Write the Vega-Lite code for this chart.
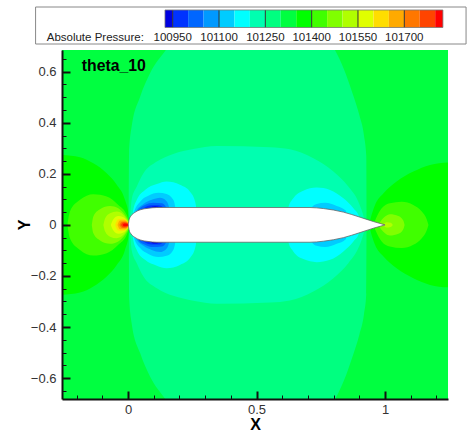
{
"$schema":"https://vega.github.io/schema/vega-lite/v6.json",
"width":386,"height":349,"autosize":{"type":"none"},"padding":{"left":62,"top":50,"right":22,"bottom":35},"background":"white",
"config":{"view":{"stroke":null},"font":"Liberation Sans"},
"datasets":{
"levels":[
{"p":100925,"p2":100950,"l":"100925"},{"p":100950,"p2":101000,"l":"100950"},{"p":101000,"p2":101050,"l":"101000"},{"p":101050,"p2":101100,"l":"101050"},{"p":101100,"p2":101150,"l":"101100"},{"p":101150,"p2":101200,"l":"101150"},{"p":101200,"p2":101250,"l":"101200"},{"p":101250,"p2":101300,"l":"101250"},{"p":101300,"p2":101350,"l":"101300"},{"p":101350,"p2":101400,"l":"101350"},{"p":101400,"p2":101450,"l":"101400"},{"p":101450,"p2":101500,"l":"101450"},{"p":101500,"p2":101550,"l":"101500"},{"p":101550,"p2":101600,"l":"101550"},{"p":101600,"p2":101650,"l":"101600"},{"p":101650,"p2":101700,"l":"101650"},{"p":101700,"p2":101750,"l":"101700"},{"p":101750,"p2":101800,"l":"101750"},{"p":101800,"p2":101825,"l":"101800"}],
"regions":[
{"r":"outer","l":"101300","x":-0.26,"y":0.7,"y2":-0.7},{"r":"outer","l":"101300","x":1.25,"y":0.7,"y2":-0.7},
{"r":"left0","l":"101350","x":-0.26,"y":0.274,"y2":-0.274},{"r":"left0","l":"101350","x":-0.187,"y":0.265,"y2":-0.265},{"r":"left0","l":"101350","x":-0.135,"y":0.241,"y2":-0.241},{"r":"left0","l":"101350","x":-0.083,"y":0.202,"y2":-0.202},{"r":"left0","l":"101350","x":-0.044,"y":0.157,"y2":-0.157},{"r":"left0","l":"101350","x":-0.012,"y":0.098,"y2":-0.098},{"r":"left0","l":"101350","x":0.004,"y":0.03,"y2":-0.03},{"r":"left0","l":"101350","x":0.006,"y":0,"y2":0},
{"r":"right0","l":"101350","x":0.94,"y":0.01,"y2":-0.01},{"r":"right0","l":"101350","x":0.944,"y":0.026,"y2":-0.026},{"r":"right0","l":"101350","x":0.961,"y":0.078,"y2":-0.078},{"r":"right0","l":"101350","x":0.994,"y":0.124,"y2":-0.124},{"r":"right0","l":"101350","x":1.045,"y":0.17,"y2":-0.17},{"r":"right0","l":"101350","x":1.11,"y":0.209,"y2":-0.209},{"r":"right0","l":"101350","x":1.175,"y":0.235,"y2":-0.235},{"r":"right0","l":"101350","x":1.25,"y":0.245,"y2":-0.245},
{"r":"col","l":"101250","x":0.003,"y":0,"y2":0},{"r":"col","l":"101250","x":0.004,"y":0.28,"y2":-0.28},{"r":"col","l":"101250","x":0.014,"y":0.385,"y2":-0.385},{"r":"col","l":"101250","x":0.047,"y":0.502,"y2":-0.502},{"r":"col","l":"101250","x":0.086,"y":0.595,"y2":-0.595},{"r":"col","l":"101250","x":0.147,"y":0.685,"y2":-0.685},{"r":"col","l":"101250","x":0.2,"y":0.76,"y2":-0.76},{"r":"col","l":"101250","x":0.75,"y":0.76,"y2":-0.76},{"r":"col","l":"101250","x":0.805,"y":0.685,"y2":-0.685},{"r":"col","l":"101250","x":0.84,"y":0.61,"y2":-0.61},{"r":"col","l":"101250","x":0.872,"y":0.52,"y2":-0.52},{"r":"col","l":"101250","x":0.9,"y":0.43,"y2":-0.43},{"r":"col","l":"101250","x":0.918,"y":0.35,"y2":-0.35},{"r":"col","l":"101250","x":0.927,"y":0.27,"y2":-0.27},{"r":"col","l":"101250","x":0.928,"y":0,"y2":0},
{"r":"inner","l":"101200","x":0.008,"y":0.02,"y2":-0.02},{"r":"inner","l":"101200","x":0.014,"y":0.098,"y2":-0.098},{"r":"inner","l":"101200","x":0.034,"y":0.15,"y2":-0.15},{"r":"inner","l":"101200","x":0.06,"y":0.202,"y2":-0.202},{"r":"inner","l":"101200","x":0.112,"y":0.248,"y2":-0.248},{"r":"inner","l":"101200","x":0.176,"y":0.278,"y2":-0.278},{"r":"inner","l":"101200","x":0.254,"y":0.297,"y2":-0.297},{"r":"inner","l":"101200","x":0.345,"y":0.309,"y2":-0.309},{"r":"inner","l":"101200","x":0.553,"y":0.304,"y2":-0.304},{"r":"inner","l":"101200","x":0.63,"y":0.296,"y2":-0.296},{"r":"inner","l":"101200","x":0.721,"y":0.261,"y2":-0.261},{"r":"inner","l":"101200","x":0.799,"y":0.209,"y2":-0.209},{"r":"inner","l":"101200","x":0.857,"y":0.15,"y2":-0.15},{"r":"inner","l":"101200","x":0.896,"y":0.091,"y2":-0.091},{"r":"inner","l":"101200","x":0.913,"y":0.046,"y2":-0.046},{"r":"inner","l":"101200","x":0.925,"y":0,"y2":0},
{"r":"fc1","l":"101150","x":0.016,"y":0,"y2":0},{"r":"fc1","l":"101150","x":0.018,"y":0.046,"y2":-0.046},{"r":"fc1","l":"101150","x":0.034,"y":0.098,"y2":-0.098},{"r":"fc1","l":"101150","x":0.066,"y":0.137,"y2":-0.137},{"r":"fc1","l":"101150","x":0.112,"y":0.16,"y2":-0.16},{"r":"fc1","l":"101150","x":0.15,"y":0.17,"y2":-0.17},{"r":"fc1","l":"101150","x":0.202,"y":0.157,"y2":-0.157},{"r":"fc1","l":"101150","x":0.241,"y":0.13,"y2":-0.13},{"r":"fc1","l":"101150","x":0.261,"y":0.091,"y2":-0.091},{"r":"fc1","l":"101150","x":0.266,"y":0.059,"y2":-0.059},{"r":"fc1","l":"101150","x":0.267,"y":0,"y2":0},
{"r":"fc2","l":"101100","x":0.021,"y":0,"y2":0},{"r":"fc2","l":"101100","x":0.023,"y":0.048,"y2":-0.048},{"r":"fc2","l":"101100","x":0.047,"y":0.091,"y2":-0.091},{"r":"fc2","l":"101100","x":0.079,"y":0.114,"y2":-0.114},{"r":"fc2","l":"101100","x":0.118,"y":0.126,"y2":-0.126},{"r":"fc2","l":"101100","x":0.15,"y":0.121,"y2":-0.121},{"r":"fc2","l":"101100","x":0.176,"y":0.098,"y2":-0.098},{"r":"fc2","l":"101100","x":0.184,"y":0.065,"y2":-0.065},{"r":"fc2","l":"101100","x":0.185,"y":0,"y2":0},
{"r":"fc3","l":"101050","x":0.03,"y":0,"y2":0},{"r":"fc3","l":"101050","x":0.031,"y":0.052,"y2":-0.052},{"r":"fc3","l":"101050","x":0.06,"y":0.082,"y2":-0.082},{"r":"fc3","l":"101050","x":0.092,"y":0.098,"y2":-0.098},{"r":"fc3","l":"101050","x":0.125,"y":0.106,"y2":-0.106},{"r":"fc3","l":"101050","x":0.148,"y":0.095,"y2":-0.095},{"r":"fc3","l":"101050","x":0.16,"y":0.068,"y2":-0.068},{"r":"fc3","l":"101050","x":0.161,"y":0,"y2":0},
{"r":"fc4","l":"101000","x":0.039,"y":0,"y2":0},{"r":"fc4","l":"101000","x":0.04,"y":0.059,"y2":-0.059},{"r":"fc4","l":"101000","x":0.066,"y":0.078,"y2":-0.078},{"r":"fc4","l":"101000","x":0.098,"y":0.087,"y2":-0.087},{"r":"fc4","l":"101000","x":0.131,"y":0.085,"y2":-0.085},{"r":"fc4","l":"101000","x":0.148,"y":0.069,"y2":-0.069},{"r":"fc4","l":"101000","x":0.15,"y":0,"y2":0},
{"r":"fc5","l":"100950","x":0.058,"y":0,"y2":0},{"r":"fc5","l":"100950","x":0.06,"y":0.065,"y2":-0.065},{"r":"fc5","l":"100950","x":0.092,"y":0.077,"y2":-0.077},{"r":"fc5","l":"100950","x":0.118,"y":0.077,"y2":-0.077},{"r":"fc5","l":"100950","x":0.137,"y":0.068,"y2":-0.068},{"r":"fc5","l":"100950","x":0.138,"y":0,"y2":0},
{"r":"fc6","l":"100925","x":0.09,"y":0,"y2":0},{"r":"fc6","l":"100925","x":0.092,"y":0.071,"y2":-0.071},{"r":"fc6","l":"100925","x":0.105,"y":0.073,"y2":-0.073},{"r":"fc6","l":"100925","x":0.118,"y":0.071,"y2":-0.071},{"r":"fc6","l":"100925","x":0.12,"y":0,"y2":0},
{"r":"rc1","l":"101150","x":0.62,"y":0,"y2":0},{"r":"rc1","l":"101150","x":0.624,"y":0.068,"y2":-0.068},{"r":"rc1","l":"101150","x":0.643,"y":0.104,"y2":-0.104},{"r":"rc1","l":"101150","x":0.682,"y":0.134,"y2":-0.134},{"r":"rc1","l":"101150","x":0.734,"y":0.146,"y2":-0.146},{"r":"rc1","l":"101150","x":0.786,"y":0.137,"y2":-0.137},{"r":"rc1","l":"101150","x":0.838,"y":0.104,"y2":-0.104},{"r":"rc1","l":"101150","x":0.877,"y":0.065,"y2":-0.065},{"r":"rc1","l":"101150","x":0.9,"y":0.03,"y2":-0.03},{"r":"rc1","l":"101150","x":0.905,"y":0,"y2":0},
{"r":"rc2","l":"101100","x":0.71,"y":0,"y2":0},{"r":"rc2","l":"101100","x":0.715,"y":0.068,"y2":-0.068},{"r":"rc2","l":"101100","x":0.734,"y":0.082,"y2":-0.082},{"r":"rc2","l":"101100","x":0.767,"y":0.087,"y2":-0.087},{"r":"rc2","l":"101100","x":0.812,"y":0.074,"y2":-0.074},{"r":"rc2","l":"101100","x":0.848,"y":0.055,"y2":-0.055},{"r":"rc2","l":"101100","x":0.85,"y":0,"y2":0},
{"r":"left1","l":"101400","x":-0.236,"y":0,"y2":0},{"r":"left1","l":"101400","x":-0.226,"y":0.052,"y2":-0.052},{"r":"left1","l":"101400","x":-0.187,"y":0.098,"y2":-0.098},{"r":"left1","l":"101400","x":-0.135,"y":0.12,"y2":-0.12},{"r":"left1","l":"101400","x":-0.083,"y":0.111,"y2":-0.111},{"r":"left1","l":"101400","x":-0.038,"y":0.078,"y2":-0.078},{"r":"left1","l":"101400","x":-0.005,"y":0.039,"y2":-0.039},{"r":"left1","l":"101400","x":0.004,"y":0.013,"y2":-0.013},
{"r":"left2","l":"101450","x":-0.141,"y":0,"y2":0},{"r":"left2","l":"101450","x":-0.135,"y":0.033,"y2":-0.033},{"r":"left2","l":"101450","x":-0.109,"y":0.061,"y2":-0.061},{"r":"left2","l":"101450","x":-0.07,"y":0.074,"y2":-0.074},{"r":"left2","l":"101450","x":-0.038,"y":0.065,"y2":-0.065},{"r":"left2","l":"101450","x":-0.012,"y":0.039,"y2":-0.039},{"r":"left2","l":"101450","x":0.004,"y":0.013,"y2":-0.013},
{"r":"left3","l":"101500","x":-0.096,"y":0,"y2":0},{"r":"left3","l":"101500","x":-0.089,"y":0.026,"y2":-0.026},{"r":"left3","l":"101500","x":-0.07,"y":0.046,"y2":-0.046},{"r":"left3","l":"101500","x":-0.044,"y":0.052,"y2":-0.052},{"r":"left3","l":"101500","x":-0.018,"y":0.039,"y2":-0.039},{"r":"left3","l":"101500","x":0.001,"y":0.013,"y2":-0.013},
{"r":"left4","l":"101550","x":-0.067,"y":0,"y2":0},{"r":"left4","l":"101550","x":-0.057,"y":0.022,"y2":-0.022},{"r":"left4","l":"101550","x":-0.038,"y":0.035,"y2":-0.035},{"r":"left4","l":"101550","x":-0.018,"y":0.03,"y2":-0.03},{"r":"left4","l":"101550","x":0.001,"y":0.009,"y2":-0.009},
{"r":"left5","l":"101600","x":-0.05,"y":0,"y2":0},{"r":"left5","l":"101600","x":-0.038,"y":0.022,"y2":-0.022},{"r":"left5","l":"101600","x":-0.018,"y":0.023,"y2":-0.023},{"r":"left5","l":"101600","x":0.002,"y":0.008,"y2":-0.008},
{"r":"left6","l":"101650","x":-0.041,"y":0,"y2":0},{"r":"left6","l":"101650","x":-0.031,"y":0.017,"y2":-0.017},{"r":"left6","l":"101650","x":-0.012,"y":0.017,"y2":-0.017},{"r":"left6","l":"101650","x":0.002,"y":0.006,"y2":-0.006},
{"r":"left7","l":"101700","x":-0.034,"y":0,"y2":0},{"r":"left7","l":"101700","x":-0.023,"y":0.012,"y2":-0.012},{"r":"left7","l":"101700","x":-0.01,"y":0.012,"y2":-0.012},{"r":"left7","l":"101700","x":0.001,"y":0.005,"y2":-0.005},
{"r":"left8","l":"101750","x":-0.028,"y":0,"y2":0},{"r":"left8","l":"101750","x":-0.019,"y":0.009,"y2":-0.009},{"r":"left8","l":"101750","x":-0.008,"y":0.008,"y2":-0.008},{"r":"left8","l":"101750","x":0.001,"y":0.004,"y2":-0.004},
{"r":"left9","l":"101800","x":-0.021,"y":0,"y2":0},{"r":"left9","l":"101800","x":-0.014,"y":0.005,"y2":-0.005},{"r":"left9","l":"101800","x":-0.004,"y":0.004,"y2":-0.004},{"r":"left9","l":"101800","x":0.001,"y":0.002,"y2":-0.002},
{"r":"right1","l":"101400","x":0.955,"y":0,"y2":0},{"r":"right1","l":"101400","x":0.965,"y":0.026,"y2":-0.026},{"r":"right1","l":"101400","x":0.987,"y":0.065,"y2":-0.065},{"r":"right1","l":"101400","x":1.019,"y":0.085,"y2":-0.085},{"r":"right1","l":"101400","x":1.065,"y":0.091,"y2":-0.091},{"r":"right1","l":"101400","x":1.11,"y":0.078,"y2":-0.078},{"r":"right1","l":"101400","x":1.143,"y":0.052,"y2":-0.052},{"r":"right1","l":"101400","x":1.162,"y":0.022,"y2":-0.022},{"r":"right1","l":"101400","x":1.169,"y":0,"y2":0},
{"r":"right2","l":"101450","x":0.974,"y":0,"y2":0},{"r":"right2","l":"101450","x":0.987,"y":0.02,"y2":-0.02},{"r":"right2","l":"101450","x":1.0,"y":0.033,"y2":-0.033},{"r":"right2","l":"101450","x":1.019,"y":0.042,"y2":-0.042},{"r":"right2","l":"101450","x":1.052,"y":0.035,"y2":-0.035},{"r":"right2","l":"101450","x":1.071,"y":0.017,"y2":-0.017},{"r":"right2","l":"101450","x":1.076,"y":0,"y2":0},
{"r":"right3","l":"101500","x":0.992,"y":0,"y2":0},{"r":"right3","l":"101500","x":1.006,"y":0.01,"y2":-0.01},{"r":"right3","l":"101500","x":1.022,"y":0.008,"y2":-0.008},{"r":"right3","l":"101500","x":1.03,"y":0,"y2":0}
],
"body":[
{"x":0.001,"y":0,"y2":0},{"x":0.004,"y":0.02,"y2":-0.02},{"x":0.012,"y":0.036,"y2":-0.036},{"x":0.025,"y":0.048,"y2":-0.048},{"x":0.047,"y":0.059,"y2":-0.059},{"x":0.078,"y":0.065,"y2":-0.065},{"x":0.112,"y":0.068,"y2":-0.068},{"x":0.708,"y":0.068,"y2":-0.068},{"x":0.76,"y":0.064,"y2":-0.064},{"x":0.838,"y":0.05,"y2":-0.05},{"x":0.903,"y":0.03,"y2":-0.03},{"x":0.955,"y":0.013,"y2":-0.013},{"x":1.0,"y":0,"y2":0}
]
},
"resolve":{"scale":{"x":"independent","y":"independent","color":"independent"},"axis":{"x":"independent","y":"independent"}},
"layer":[
{"data":{"name":"regions"},
 "mark":{"type":"area","interpolate":"monotone","clip":true,"strokeWidth":0},
 "encoding":{
  "x":{"field":"x","type":"quantitative","scale":{"domain":[-0.257,1.245],"nice":false,"zero":false},"axis":{"orient":"bottom","values":[-0.2,-0.1,0.1,0.2,0.3,0.4,0.6,0.7,0.8,0.9,1.1,1.2],"labels":false,"domain":false,"grid":false,"title":null,"tickSize":-4,"tickWidth":1,"tickColor":"#111","zindex":1}},
  "y":{"field":"y","type":"quantitative","scale":{"domain":[-0.682,0.685],"nice":false,"zero":false},"stack":null,"axis":{"orient":"left","values":[-0.65,-0.55,-0.5,-0.45,-0.35,-0.3,-0.25,-0.15,-0.1,-0.05,0.05,0.1,0.15,0.25,0.3,0.35,0.45,0.5,0.55,0.65],"labels":false,"domain":false,"grid":false,"title":null,"tickSize":-4,"tickWidth":1,"tickColor":"#111","zindex":1}},
  "y2":{"field":"y2"},
  "detail":{"field":"r"},
  "color":{"field":"l","type":"nominal","legend":null,"scale":{"domain":["100925","100950","101000","101050","101100","101150","101200","101250","101300","101350","101400","101450","101500","101550","101600","101650","101700","101750","101800"],"range":["#0000e0","#0033ff","#0066ff","#0099ff","#00ccff","#00ffff","#00ffb0","#00ff80","#00ff40","#00ff00","#40ff00","#80ff00","#b0ff00","#e0ff00","#ffdd00","#ffaa00","#ff7700","#ff4400","#ff0000"]}}
 }},
{"layer":[
 {"data":{"name":"body"},
  "mark":{"type":"area","interpolate":"monotone","fill":"white","stroke":"#666","strokeWidth":0.8},
  "encoding":{
   "x":{"field":"x","type":"quantitative","scale":{"domain":[-0.257,1.245],"nice":false,"zero":false},"axis":{"orient":"bottom","values":[0,0.5,1],"format":"~g","grid":false,"title":"X","titleFontSize":16,"titleFontWeight":"bold","titleColor":"#000","titlePadding":0,"labelFontSize":13,"labelColor":"#333","labelPadding":12,"domain":true,"domainColor":"#111","domainWidth":2,"tickSize":-8,"tickWidth":2,"tickColor":"#111","zindex":1}},
   "y":{"field":"y","type":"quantitative","scale":{"domain":[-0.682,0.685],"nice":false,"zero":false},"stack":null,"axis":{"orient":"left","values":[-0.6,-0.4,-0.2,0,0.2,0.4,0.6],"format":"~g","grid":false,"title":"Y","titleFontSize":16,"titleFontWeight":"bold","titleColor":"#000","titlePadding":-2,"labelFontSize":13,"labelColor":"#333","labelPadding":14,"domain":true,"domainColor":"#111","domainWidth":2,"tickSize":-8,"tickWidth":2,"tickColor":"#111","zindex":1}},
   "y2":{"field":"y2"}
  }},
 {"data":{"values":[{"x":-0.18,"y":0.622,"t":"theta_10"}]},
  "mark":{"type":"text","align":"left","baseline":"middle","fontSize":15.8,"fontWeight":"bold","color":"#000"},
  "encoding":{"x":{"field":"x","type":"quantitative"},"y":{"field":"y","type":"quantitative"},"text":{"field":"t"}}}
]},
{"layer":[
 {"data":{"values":[{"a":100506,"b":101900,"c":0,"d":1}]},
  "mark":{"type":"rect","fill":"white","stroke":"#888","strokeWidth":1},
  "encoding":{
   "x":{"field":"a","type":"quantitative","axis":null,"scale":{"domain":[100950,101700],"range":[110.7,342.3],"nice":false,"zero":false}},
   "x2":{"field":"b"},
   "y":{"field":"c","type":"quantitative","axis":null,"scale":{"domain":[0,1],"range":[-6,-43],"nice":false,"zero":false}},
   "y2":{"field":"d"}}},
 {"data":{"name":"levels"},
  "mark":{"type":"rect"},
  "encoding":{
   "x":{"field":"p","type":"quantitative","axis":null},
   "x2":{"field":"p2"},
   "y":{"datum":0.446,"type":"quantitative","axis":null},
   "y2":{"datum":0.919},
   "color":{"field":"l","type":"nominal","legend":null,"scale":{"domain":["100925","100950","101000","101050","101100","101150","101200","101250","101300","101350","101400","101450","101500","101550","101600","101650","101700","101750","101800"],"range":["#0000e0","#0033ff","#0066ff","#0099ff","#00ccff","#00ffff","#00ffb0","#00ff80","#00ff40","#00ff00","#40ff00","#80ff00","#b0ff00","#e0ff00","#ffdd00","#ffaa00","#ff7700","#ff4400","#ff0000"]}}}},
 {"data":{"values":[{"p":100950},{"p":101100},{"p":101250},{"p":101400},{"p":101550},{"p":101700}]},
  "mark":{"type":"rule","color":"#333","strokeWidth":1},
  "encoding":{"x":{"field":"p","type":"quantitative","axis":null},"y":{"datum":0.446,"type":"quantitative","axis":null},"y2":{"datum":0.919}}},
 {"data":{"values":[{"a":100925,"b":101825}]},
  "mark":{"type":"rect","fillOpacity":0,"stroke":"#777","strokeWidth":0.8},
  "encoding":{"x":{"field":"a","type":"quantitative","axis":null},"x2":{"field":"b"},"y":{"datum":0.446,"type":"quantitative","axis":null},"y2":{"datum":0.919}}},
 {"data":{"values":[{"p":100950,"t":"100950"},{"p":101100,"t":"101100"},{"p":101250,"t":"101250"},{"p":101400,"t":"101400"},{"p":101550,"t":"101550"},{"p":101700,"t":"101700"}]},
  "mark":{"type":"text","align":"center","baseline":"middle","fontSize":11.5,"color":"#222"},
  "encoding":{"x":{"field":"p","type":"quantitative","axis":null},"y":{"datum":0.17,"type":"quantitative","axis":null},"text":{"field":"t"}}},
 {"data":{"values":[{"p":100542,"t":"Absolute Pressure:"}]},
  "mark":{"type":"text","align":"left","baseline":"middle","fontSize":11.5,"color":"#222"},
  "encoding":{"x":{"field":"p","type":"quantitative","axis":null},"y":{"datum":0.17,"type":"quantitative","axis":null},"text":{"field":"t"}}}
]}
]
}
